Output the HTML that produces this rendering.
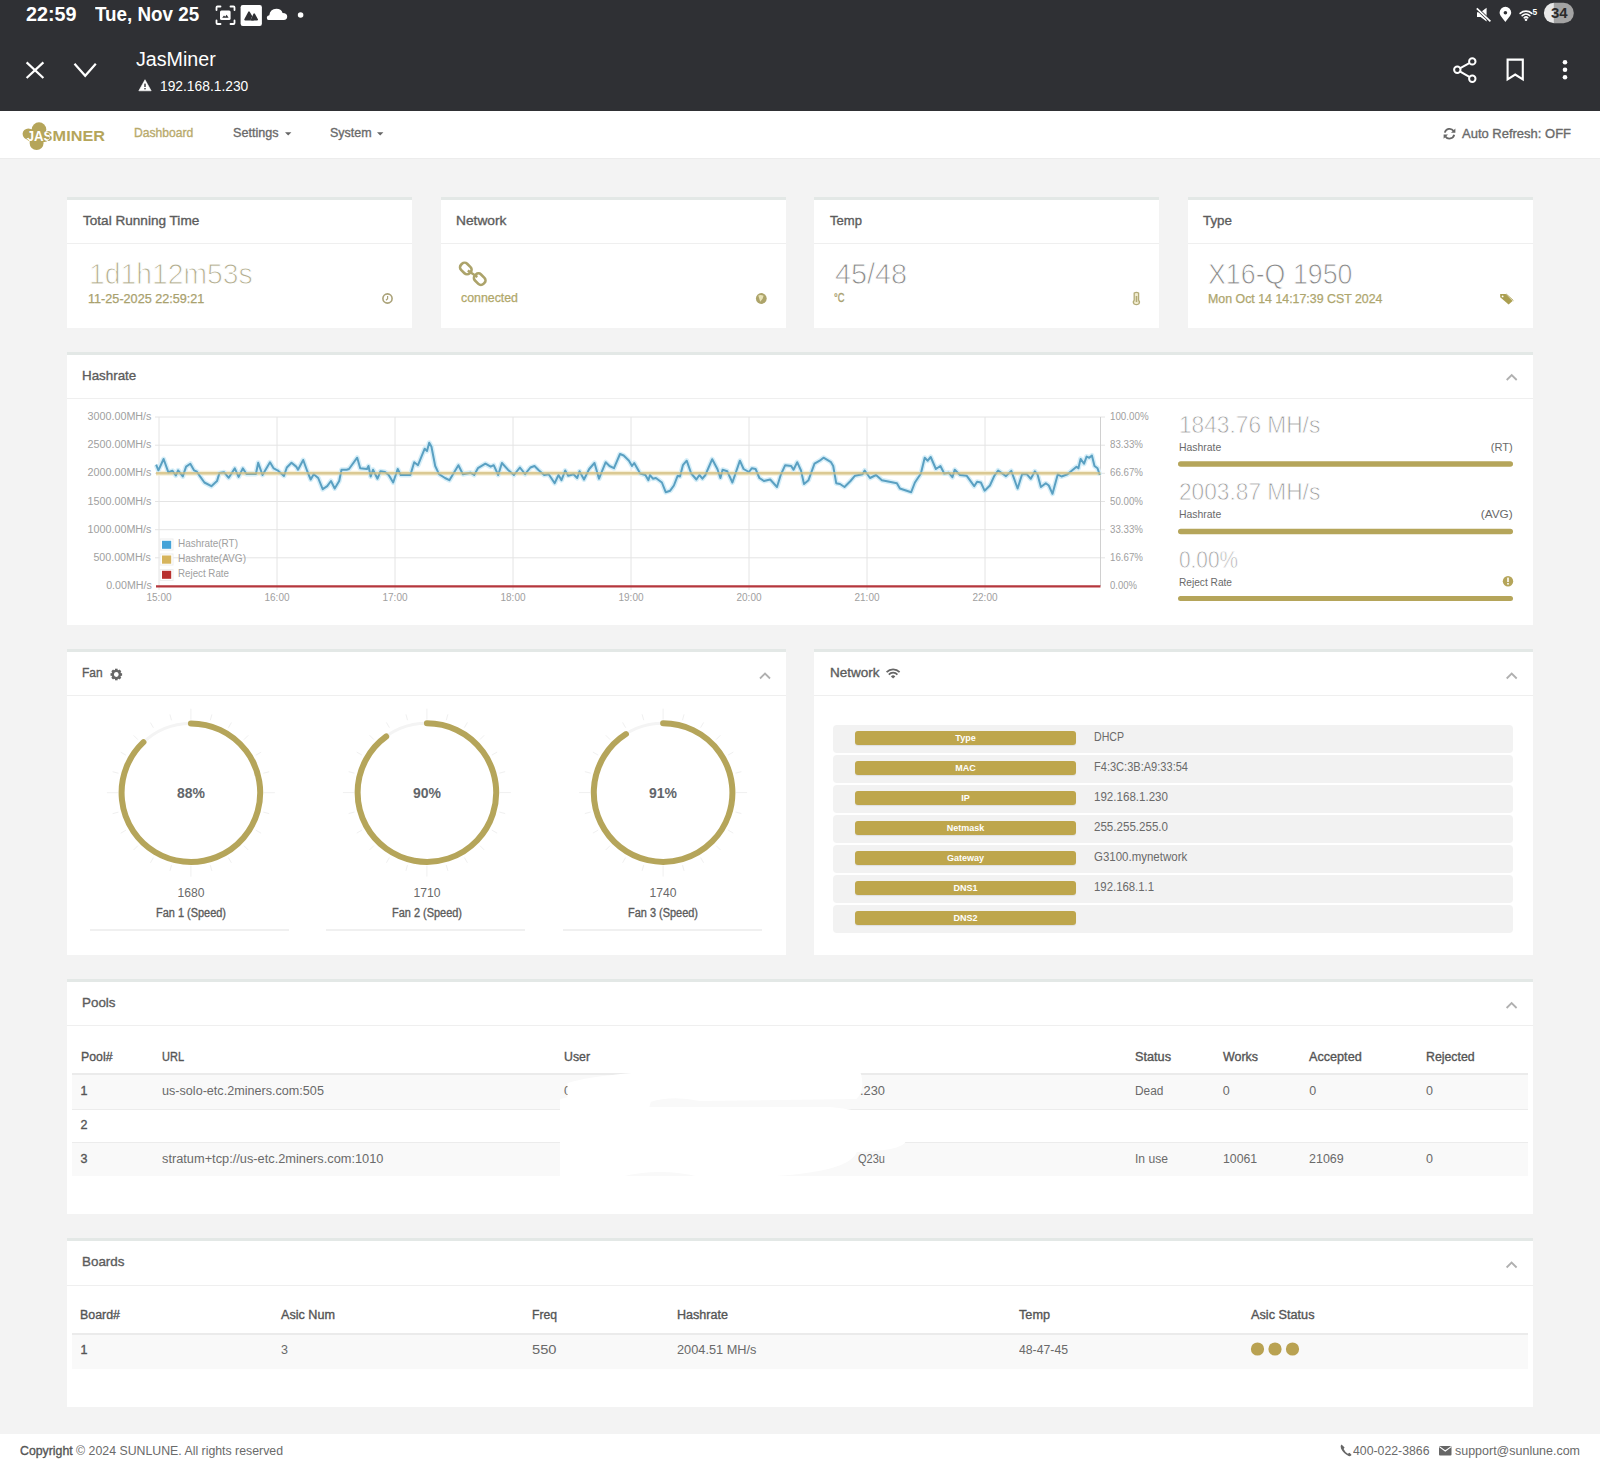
<!DOCTYPE html>
<html><head><meta charset="utf-8"><style>
html,body{margin:0;padding:0;width:1600px;height:1471px;overflow:hidden;background:#f3f3f3;font-family:"Liberation Sans", sans-serif}
div{font-family:"Liberation Sans", sans-serif}
</style></head><body>
<div style="position:absolute;left:0;top:0;width:1600px;height:111px;background:#2f3034"></div>
<div style="position:absolute;left:0;top:111px;width:1600px;height:47px;background:#fff;border-bottom:1px solid #ececec"></div>
<div style="position:absolute;left:0;top:159px;width:1600px;height:1275px;background:#f3f3f3"></div>
<div style="position:absolute;left:67px;top:197px;width:345px;height:131px;background:#fff;border-top:3px solid #e3e8e6;box-sizing:border-box"></div>
<div style="position:absolute;left:67px;top:243px;width:345px;height:1px;background:#efefef"></div>
<div style="position:absolute;left:441px;top:197px;width:345px;height:131px;background:#fff;border-top:3px solid #e3e8e6;box-sizing:border-box"></div>
<div style="position:absolute;left:441px;top:243px;width:345px;height:1px;background:#efefef"></div>
<div style="position:absolute;left:814px;top:197px;width:345px;height:131px;background:#fff;border-top:3px solid #e3e8e6;box-sizing:border-box"></div>
<div style="position:absolute;left:814px;top:243px;width:345px;height:1px;background:#efefef"></div>
<div style="position:absolute;left:1188px;top:197px;width:345px;height:131px;background:#fff;border-top:3px solid #e3e8e6;box-sizing:border-box"></div>
<div style="position:absolute;left:1188px;top:243px;width:345px;height:1px;background:#efefef"></div>
<div style="position:absolute;left:67px;top:352px;width:1466px;height:273px;background:#fff;border-top:3px solid #e3e8e6;box-sizing:border-box"></div>
<div style="position:absolute;left:67px;top:398px;width:1466px;height:1px;background:#efefef"></div>
<div style="position:absolute;left:67px;top:649px;width:719px;height:306px;background:#fff;border-top:3px solid #e3e8e6;box-sizing:border-box"></div>
<div style="position:absolute;left:67px;top:695px;width:719px;height:1px;background:#efefef"></div>
<div style="position:absolute;left:90.4px;top:929px;width:199px;height:1.5px;background:#f0f0f0"></div>
<div style="position:absolute;left:326.4px;top:929px;width:199px;height:1.5px;background:#f0f0f0"></div>
<div style="position:absolute;left:562.6px;top:929px;width:199px;height:1.5px;background:#f0f0f0"></div>
<div style="position:absolute;left:814px;top:649px;width:719px;height:306px;background:#fff;border-top:3px solid #e3e8e6;box-sizing:border-box"></div>
<div style="position:absolute;left:814px;top:695px;width:719px;height:1px;background:#efefef"></div>
<div style="position:absolute;left:833px;top:725px;width:680px;height:27.5px;background:#f2f2f2;border-radius:4px"></div>
<div style="position:absolute;left:855px;top:730.6px;width:221px;height:14.5px;background:#bea64c;border-radius:3px;box-shadow:0 1px 1px rgba(0,0,0,0.08)"></div>
<div style="position:absolute;left:833px;top:755px;width:680px;height:27.5px;background:#f2f2f2;border-radius:4px"></div>
<div style="position:absolute;left:855px;top:760.6px;width:221px;height:14.5px;background:#bea64c;border-radius:3px;box-shadow:0 1px 1px rgba(0,0,0,0.08)"></div>
<div style="position:absolute;left:833px;top:785px;width:680px;height:27.5px;background:#f2f2f2;border-radius:4px"></div>
<div style="position:absolute;left:855px;top:790.6px;width:221px;height:14.5px;background:#bea64c;border-radius:3px;box-shadow:0 1px 1px rgba(0,0,0,0.08)"></div>
<div style="position:absolute;left:833px;top:815px;width:680px;height:27.5px;background:#f2f2f2;border-radius:4px"></div>
<div style="position:absolute;left:855px;top:820.6px;width:221px;height:14.5px;background:#bea64c;border-radius:3px;box-shadow:0 1px 1px rgba(0,0,0,0.08)"></div>
<div style="position:absolute;left:833px;top:845px;width:680px;height:27.5px;background:#f2f2f2;border-radius:4px"></div>
<div style="position:absolute;left:855px;top:850.6px;width:221px;height:14.5px;background:#bea64c;border-radius:3px;box-shadow:0 1px 1px rgba(0,0,0,0.08)"></div>
<div style="position:absolute;left:833px;top:875px;width:680px;height:27.5px;background:#f2f2f2;border-radius:4px"></div>
<div style="position:absolute;left:855px;top:880.6px;width:221px;height:14.5px;background:#bea64c;border-radius:3px;box-shadow:0 1px 1px rgba(0,0,0,0.08)"></div>
<div style="position:absolute;left:833px;top:905px;width:680px;height:27.5px;background:#f2f2f2;border-radius:4px"></div>
<div style="position:absolute;left:855px;top:910.6px;width:221px;height:14.5px;background:#bea64c;border-radius:3px;box-shadow:0 1px 1px rgba(0,0,0,0.08)"></div>
<div style="position:absolute;left:67px;top:979px;width:1466px;height:235px;background:#fff;border-top:3px solid #e3e8e6;box-sizing:border-box"></div>
<div style="position:absolute;left:67px;top:1025px;width:1466px;height:1px;background:#efefef"></div>
<div style="position:absolute;left:72px;top:1073px;width:1456px;height:2px;background:#ebebeb"></div>
<div style="position:absolute;left:72px;top:1075px;width:1456px;height:33.5px;background:#f9f9f9"></div>
<div style="position:absolute;left:72px;top:1108.5px;width:1456px;height:1px;background:#ececec"></div>
<div style="position:absolute;left:72px;top:1142px;width:1456px;height:1px;background:#ececec"></div>
<div style="position:absolute;left:72px;top:1143px;width:1456px;height:33px;background:#f9f9f9"></div>
<div style="position:absolute;left:67px;top:1238px;width:1466px;height:169px;background:#fff;border-top:3px solid #e3e8e6;box-sizing:border-box"></div>
<div style="position:absolute;left:67px;top:1285px;width:1466px;height:1px;background:#efefef"></div>
<div style="position:absolute;left:72px;top:1333px;width:1456px;height:2px;background:#ebebeb"></div>
<div style="position:absolute;left:72px;top:1335px;width:1456px;height:34px;background:#f9f9f9"></div>
<div style="position:absolute;left:0;top:1434px;width:1600px;height:37px;background:#fff"></div>
<svg style="position:absolute;left:0;top:0;pointer-events:none" width="1600" height="1471" viewBox="0 0 1600 1471"><g fill="none" stroke="#fff" stroke-width="1.8" stroke-linecap="round"><path d="M216.5 10 V7.5 Q216.5 6.5 217.5 6.5 H220.5"/><path d="M230.5 6.5 H233.5 Q234.5 6.5 234.5 7.5 V10"/><path d="M216.5 20.5 V23 Q216.5 24 217.5 24 H220.5"/><path d="M230.5 24 H233.5 Q234.5 24 234.5 23 V20.5"/></g><rect x="220" y="10.6" width="10.6" height="9.4" rx="1.5" fill="#fff"/><path d="M222.2 17.8 L224 15.6 L225.2 16.8 L226.6 14.8 L228.6 17.8 Z" fill="#2f3034"/><rect x="240.6" y="5" width="21.3" height="21" rx="2.2" fill="#fff"/><path d="M245 19.6 L249 12.2 L253.4 19.6 Z" fill="#2f3034" stroke="#2f3034" stroke-width="1.6" stroke-linejoin="round"/><path d="M251.2 19.8 L254.2 13.4 L257.6 19.8" fill="none" stroke="#fff" stroke-width="1.2"/><path d="M251.6 19.6 L254.2 14.2 L257.2 19.6 Z" fill="#2f3034" stroke="#2f3034" stroke-width="1.6" stroke-linejoin="round"/><path d="M268.5 20 Q266.8 20 266.8 17.8 Q266.8 15.4 269.3 15.2 Q270 9 276.4 8.8 Q281.2 8.8 282.6 13 Q287.2 13 287.2 16.6 Q287.2 20 283.8 20 Z" fill="#fff"/><circle cx="300.6" cy="15" r="2.8" fill="#fff"/><path d="M1477 12.2 H1480.6 L1486.6 7.8 V21.4 L1480.6 17 H1477 Z" fill="#fff"/><path d="M1476.6 8.2 L1490.6 21.6" stroke="#2f3034" stroke-width="3.2"/><path d="M1476.8 8.4 L1490.4 21.4" stroke="#fff" stroke-width="1.7"/><path d="M1505.4 22 C1503 18.6 1499.6 15.6 1499.6 12.6 A5.8 5.8 0 0 1 1511.2 12.6 C1511.2 15.6 1507.8 18.6 1505.4 22 Z" fill="#fff"/><circle cx="1505.4" cy="12.8" r="1.8" fill="#2f3034"/><g fill="none" stroke="#fff" stroke-width="1.6" stroke-linecap="round"><path d="M1520.2 13.4 A8.6 8.6 0 0 1 1531.8 13.4"/><path d="M1522.2 15.6 A5.6 5.6 0 0 1 1529.8 15.6"/><path d="M1524.2 17.8 A2.6 2.6 0 0 1 1527.8 17.8"/></g><circle cx="1526" cy="19.8" r="1.3" fill="#fff"/><text x="1532.4" y="14.9" font-family="Liberation Sans" font-weight="700" font-size="8.4" fill="#fff">5</text><clipPath id="bp"><rect x="1543.9" y="2.8" width="29.9" height="20.4" rx="10.2"/></clipPath><g clip-path="url(#bp)"><rect x="1543" y="2" width="11" height="22" fill="#e8e8e8"/><rect x="1553.8" y="2" width="21" height="22" fill="#a3a3a3"/></g><g stroke="#fff" stroke-width="2.2" fill="none"><path d="M26.6 62.4 L43.4 78"/><path d="M43.4 62.4 L26.6 78"/><path d="M74.5 63.8 L85.2 75.8 L95.8 63.8"/></g><path d="M145 79.7 L151.2 90.8 H138.8 Z" fill="#fff" stroke="#fff" stroke-width="0.6" stroke-linejoin="round"/><rect x="144.3" y="83.6" width="1.4" height="3.4" fill="#2f3034"/><rect x="144.3" y="88" width="1.4" height="1.4" fill="#2f3034"/><g stroke="#fff" stroke-width="2" fill="none"><path d="M1459.8 68.4 L1469.8 62.8"/><path d="M1459.8 71.4 L1469.8 77.2"/><circle cx="1472.3" cy="61.4" r="3.2"/><circle cx="1457.3" cy="69.8" r="3.2"/><circle cx="1472.3" cy="78.7" r="3.2"/></g><path d="M1507.6 59.6 H1522.8 V79.4 L1515.2 74.6 L1507.6 79.4 Z" fill="none" stroke="#fff" stroke-width="2.1" stroke-linejoin="miter"/><g fill="#fff"><circle cx="1565" cy="62.3" r="2.3"/><circle cx="1565" cy="69.8" r="2.3"/><circle cx="1565" cy="77.3" r="2.3"/></g><g fill="#b5a55a"><circle cx="39" cy="129.6" r="7.3"/><ellipse cx="28.4" cy="134" rx="5.8" ry="5.6"/><circle cx="36.6" cy="143" r="7"/><ellipse cx="44.6" cy="136.4" rx="5.2" ry="5.6"/><ellipse cx="37" cy="136" rx="10" ry="8"/></g><path d="M285 132.2 L291.4 132.2 L288.2 135.4 Z" fill="#666"/><path d="M377 132.2 L383.4 132.2 L380.2 135.4 Z" fill="#666"/><g fill="none" stroke="#666" stroke-width="1.8"><path d="M1444.8 132.6 A4.9 4.9 0 0 1 1453.6 131"/><path d="M1454.2 134.8 A4.9 4.9 0 0 1 1445.4 136.4"/></g><path d="M1455.4 128.4 V132.8 H1451 Z" fill="#666"/><path d="M1443.6 138.8 V134.4 H1448 Z" fill="#666"/><circle cx="387.5" cy="298.5" r="4.6" fill="none" stroke="#aaa278" stroke-width="1.6"/><path d="M387.6 296 V298.8 L386 300.2" stroke="#aaa278" stroke-width="1.2" fill="none"/><g fill="none" stroke="#aca36a" stroke-width="2.6"><rect x="461.5" y="262.5" width="8.6" height="12" rx="3.6" transform="rotate(-45 465.8 268.5)"/><rect x="475.4" y="273.2" width="8.6" height="12" rx="3.6" transform="rotate(-45 479.7 279.2)"/></g><path d="M467.8 270.6 L477.4 277" stroke="#aca36a" stroke-width="2.4"/><circle cx="761.3" cy="298.5" r="5.4" fill="#ada46a"/><path d="M758.3 295.4 Q760.8 294.4 763.6 295.8 L762.6 298.8 L760.2 301.8 L759.4 299 Z" fill="#e9e3b8"/><path d="M1134.2 293 Q1136.4 291.6 1138.6 293 V300.2 Q1140.4 302 1138.6 304 Q1136.4 305.4 1134.2 304 Q1132.4 302 1134.2 300.2 Z" fill="#f1ecd0" stroke="#b3ab78" stroke-width="1.3"/><rect x="1135.7" y="296" width="1.6" height="6" fill="#b3ab78"/><path d="M1500.2 294 H1505.6 L1512.6 301 L1508.6 304.6 L1500.2 297.2 Z" fill="#ab9f50"/><path d="M1506.2 294 L1513.4 300.6" stroke="#ab9f50" stroke-width="1" fill="none"/><circle cx="1502.6" cy="296.4" r="0.9" fill="#fff"/><path d="M1506.7 380.0 L1511.7 375.0 L1516.7 380.0" fill="none" stroke="#b0b0b0" stroke-width="1.8"/><line x1="155" y1="417.0" x2="1105" y2="417.0" stroke="#e4e4e4" stroke-width="1"/><line x1="155" y1="445.2" x2="1105" y2="445.2" stroke="#e4e4e4" stroke-width="1"/><line x1="155" y1="473.3" x2="1105" y2="473.3" stroke="#e4e4e4" stroke-width="1"/><line x1="155" y1="501.5" x2="1105" y2="501.5" stroke="#e4e4e4" stroke-width="1"/><line x1="155" y1="529.7" x2="1105" y2="529.7" stroke="#e4e4e4" stroke-width="1"/><line x1="155" y1="557.8" x2="1105" y2="557.8" stroke="#e4e4e4" stroke-width="1"/><line x1="159.0" y1="417" x2="159.0" y2="590" stroke="#e4e4e4" stroke-width="1"/><line x1="277.0" y1="417" x2="277.0" y2="590" stroke="#e4e4e4" stroke-width="1"/><line x1="395.0" y1="417" x2="395.0" y2="590" stroke="#e4e4e4" stroke-width="1"/><line x1="513.0" y1="417" x2="513.0" y2="590" stroke="#e4e4e4" stroke-width="1"/><line x1="631.0" y1="417" x2="631.0" y2="590" stroke="#e4e4e4" stroke-width="1"/><line x1="749.0" y1="417" x2="749.0" y2="590" stroke="#e4e4e4" stroke-width="1"/><line x1="867.0" y1="417" x2="867.0" y2="590" stroke="#e4e4e4" stroke-width="1"/><line x1="985.0" y1="417" x2="985.0" y2="590" stroke="#e4e4e4" stroke-width="1"/><line x1="1100.5" y1="417" x2="1100.5" y2="586" stroke="#d0d0d0" stroke-width="1"/><line x1="156" y1="473.2" x2="1100.5" y2="473.2" stroke="#f5efd8" stroke-width="5"/><polyline points="156.1,464.7 158.4,470.3 163.6,459.0 168.3,472.2 172.5,470.8 175.8,475.5 178.1,470.3 182.8,476.4 186.1,466.6 190.3,463.7 194.0,470.3 196.9,471.7 199.7,475.9 204.4,482.5 211.4,486.2 217.0,481.1 219.4,473.1 224.0,472.2 228.7,477.8 234.8,468.4 238.6,476.9 242.8,468.4 246.5,474.0 255.9,474.0 258.2,462.8 262.5,475.0 270.0,462.3 273.7,468.4 277.5,470.3 284.0,475.9 286.8,467.5 291.5,462.8 296.2,466.6 298.0,469.7 303.2,460.0 307.0,470.5 310.7,479.5 313.7,474.2 318.2,478.0 322.7,489.2 327.2,486.2 331.0,481.0 334.7,488.5 339.2,481.0 341.5,469.7 346.7,469.7 349.0,469.0 357.2,457.7 360.2,468.2 367.0,469.0 368.5,466.0 370.7,476.5 373.0,469.7 377.5,478.7 380.5,471.2 385.0,472.0 388.7,475.0 393.2,482.5 397.7,469.0 400.7,475.0 410.4,475.0 414.2,462.2 418.0,465.2 424.7,448.7 427.0,451.0 429.2,442.7 431.4,446.5 435.2,466.0 439.0,474.2 445.0,478.0 449.4,480.2 458.4,465.2 462.9,474.2 470.4,472.7 474.2,475.0 477.9,468.2 485.4,463.7 490.7,466.7 493.7,465.2 498.2,475.0 501.9,463.0 507.9,469.7 513.9,475.0 519.9,467.5 525.1,474.2 530.4,467.5 534.5,466.0 539.0,470.5 544.2,475.0 548.7,474.2 554.7,483.2 558.5,475.0 561.5,480.2 565.2,470.5 568.2,475.7 573.5,474.2 577.2,478.0 579.5,471.2 584.0,479.5 589.2,469.0 594.5,463.0 599.0,478.7 605.7,462.2 609.5,466.0 614.0,468.2 620.0,454.0 623.7,455.5 629.0,460.7 632.0,466.0 634.2,463.0 640.2,473.5 645.4,475.0 648.4,480.2 650.0,475.0 652.9,478.7 655.9,478.0 661.9,482.5 665.7,492.2 670.2,490.7 673.9,485.5 677.7,475.7 680.0,476.5 682.9,465.2 686.7,460.7 691.2,473.5 696.4,479.5 699.4,475.0 702.4,478.7 705.4,475.0 712.2,459.2 717.4,469.0 720.4,478.0 722.6,469.7 727.2,471.2 732.4,482.5 739.9,460.7 743.6,469.0 748.9,472.0 751.9,468.2 755.6,469.0 759.4,478.0 763.9,481.0 770.2,479.5 777.0,487.0 780.7,475.0 785.2,465.2 791.2,466.0 793.5,469.7 797.2,462.2 801.0,470.5 804.0,484.0 808.5,480.2 814.5,463.7 819.7,460.7 823.5,457.7 831.0,462.2 833.2,466.0 836.2,483.2 840.0,484.0 844.5,487.0 850.5,481.0 855.0,475.7 862.5,474.2 864.7,470.5 870.0,478.0 876.0,475.0 881.9,480.2 889.4,481.7 896.9,483.2 899.9,488.5 904.4,490.0 911.2,492.2 914.9,482.5 920.9,473.5 924.7,457.7 927.7,460.7 930.7,457.0 935.9,469.0 940.4,466.0 944.2,473.5 948.7,472.7 952.4,477.2 954.7,469.7 960.0,475.0 966.6,475.7 974.2,486.2 977.1,481.7 980.9,482.5 984.6,490.7 989.9,485.5 994.4,475.7 998.1,470.5 1006.0,476.1 1011.3,470.9 1017.6,488.5 1022.1,474.3 1027.0,474.3 1030.8,478.8 1034.9,471.3 1037.5,474.3 1040.9,487.0 1045.8,483.3 1048.8,485.5 1052.5,493.8 1057.8,474.3 1061.5,476.5 1067.5,474.3 1072.0,470.5 1076.5,466.8 1078.4,468.3 1080.6,458.9 1084.0,463.8 1086.6,456.6 1089.3,457.8 1091.9,455.5 1094.5,466.0 1097.5,468.3 1099.8,475.0" fill="none" stroke="#d6eef8" stroke-width="5" stroke-linejoin="round"/><polyline points="156.1,464.7 158.4,470.3 163.6,459.0 168.3,472.2 172.5,470.8 175.8,475.5 178.1,470.3 182.8,476.4 186.1,466.6 190.3,463.7 194.0,470.3 196.9,471.7 199.7,475.9 204.4,482.5 211.4,486.2 217.0,481.1 219.4,473.1 224.0,472.2 228.7,477.8 234.8,468.4 238.6,476.9 242.8,468.4 246.5,474.0 255.9,474.0 258.2,462.8 262.5,475.0 270.0,462.3 273.7,468.4 277.5,470.3 284.0,475.9 286.8,467.5 291.5,462.8 296.2,466.6 298.0,469.7 303.2,460.0 307.0,470.5 310.7,479.5 313.7,474.2 318.2,478.0 322.7,489.2 327.2,486.2 331.0,481.0 334.7,488.5 339.2,481.0 341.5,469.7 346.7,469.7 349.0,469.0 357.2,457.7 360.2,468.2 367.0,469.0 368.5,466.0 370.7,476.5 373.0,469.7 377.5,478.7 380.5,471.2 385.0,472.0 388.7,475.0 393.2,482.5 397.7,469.0 400.7,475.0 410.4,475.0 414.2,462.2 418.0,465.2 424.7,448.7 427.0,451.0 429.2,442.7 431.4,446.5 435.2,466.0 439.0,474.2 445.0,478.0 449.4,480.2 458.4,465.2 462.9,474.2 470.4,472.7 474.2,475.0 477.9,468.2 485.4,463.7 490.7,466.7 493.7,465.2 498.2,475.0 501.9,463.0 507.9,469.7 513.9,475.0 519.9,467.5 525.1,474.2 530.4,467.5 534.5,466.0 539.0,470.5 544.2,475.0 548.7,474.2 554.7,483.2 558.5,475.0 561.5,480.2 565.2,470.5 568.2,475.7 573.5,474.2 577.2,478.0 579.5,471.2 584.0,479.5 589.2,469.0 594.5,463.0 599.0,478.7 605.7,462.2 609.5,466.0 614.0,468.2 620.0,454.0 623.7,455.5 629.0,460.7 632.0,466.0 634.2,463.0 640.2,473.5 645.4,475.0 648.4,480.2 650.0,475.0 652.9,478.7 655.9,478.0 661.9,482.5 665.7,492.2 670.2,490.7 673.9,485.5 677.7,475.7 680.0,476.5 682.9,465.2 686.7,460.7 691.2,473.5 696.4,479.5 699.4,475.0 702.4,478.7 705.4,475.0 712.2,459.2 717.4,469.0 720.4,478.0 722.6,469.7 727.2,471.2 732.4,482.5 739.9,460.7 743.6,469.0 748.9,472.0 751.9,468.2 755.6,469.0 759.4,478.0 763.9,481.0 770.2,479.5 777.0,487.0 780.7,475.0 785.2,465.2 791.2,466.0 793.5,469.7 797.2,462.2 801.0,470.5 804.0,484.0 808.5,480.2 814.5,463.7 819.7,460.7 823.5,457.7 831.0,462.2 833.2,466.0 836.2,483.2 840.0,484.0 844.5,487.0 850.5,481.0 855.0,475.7 862.5,474.2 864.7,470.5 870.0,478.0 876.0,475.0 881.9,480.2 889.4,481.7 896.9,483.2 899.9,488.5 904.4,490.0 911.2,492.2 914.9,482.5 920.9,473.5 924.7,457.7 927.7,460.7 930.7,457.0 935.9,469.0 940.4,466.0 944.2,473.5 948.7,472.7 952.4,477.2 954.7,469.7 960.0,475.0 966.6,475.7 974.2,486.2 977.1,481.7 980.9,482.5 984.6,490.7 989.9,485.5 994.4,475.7 998.1,470.5 1006.0,476.1 1011.3,470.9 1017.6,488.5 1022.1,474.3 1027.0,474.3 1030.8,478.8 1034.9,471.3 1037.5,474.3 1040.9,487.0 1045.8,483.3 1048.8,485.5 1052.5,493.8 1057.8,474.3 1061.5,476.5 1067.5,474.3 1072.0,470.5 1076.5,466.8 1078.4,468.3 1080.6,458.9 1084.0,463.8 1086.6,456.6 1089.3,457.8 1091.9,455.5 1094.5,466.0 1097.5,468.3 1099.8,475.0" fill="none" stroke="#5aa0c2" stroke-width="2" stroke-linejoin="round"/><line x1="156" y1="473.2" x2="1100.5" y2="473.2" stroke="#d3bd7c" stroke-width="2.6" opacity="0.75"/><line x1="156" y1="586.3" x2="1100.5" y2="586.3" stroke="#b5373d" stroke-width="2.2"/><rect x="160" y="539" width="13" height="11" fill="#fff" stroke="#eee" stroke-width="1"/><rect x="162" y="540.8" width="9.2" height="8" fill="#45a3d8"/><rect x="160" y="554" width="13" height="11" fill="#fff" stroke="#eee" stroke-width="1"/><rect x="162" y="555.5" width="9.2" height="8.2" fill="#d6b45c"/><rect x="160" y="569.5" width="13" height="11" fill="#fff" stroke="#eee" stroke-width="1"/><rect x="162" y="570.8" width="9.2" height="8" fill="#b8312f"/><rect x="1178" y="461.2" width="335" height="5.5" rx="2.75" fill="#b5a55a"/><rect x="1178" y="528.7" width="335" height="5.5" rx="2.75" fill="#b5a55a"/><circle cx="1508" cy="581.2" r="5.2" fill="#b5a55a"/><rect x="1507.2" y="577.6" width="1.6" height="4.4" fill="#fff"/><rect x="1507.2" y="583" width="1.6" height="1.6" fill="#fff"/><rect x="1178" y="596" width="335" height="5" rx="2.5" fill="#b5a55a"/><rect x="115.00" y="668.70" width="2.6" height="3" transform="rotate(0.0 116.3 674.5)" fill="#666"/><rect x="115.00" y="668.70" width="2.6" height="3" transform="rotate(45.0 116.3 674.5)" fill="#666"/><rect x="115.00" y="668.70" width="2.6" height="3" transform="rotate(90.0 116.3 674.5)" fill="#666"/><rect x="115.00" y="668.70" width="2.6" height="3" transform="rotate(135.0 116.3 674.5)" fill="#666"/><rect x="115.00" y="668.70" width="2.6" height="3" transform="rotate(180.0 116.3 674.5)" fill="#666"/><rect x="115.00" y="668.70" width="2.6" height="3" transform="rotate(225.0 116.3 674.5)" fill="#666"/><rect x="115.00" y="668.70" width="2.6" height="3" transform="rotate(270.0 116.3 674.5)" fill="#666"/><rect x="115.00" y="668.70" width="2.6" height="3" transform="rotate(315.0 116.3 674.5)" fill="#666"/><circle cx="116.3" cy="674.5" r="3.6" fill="none" stroke="#666" stroke-width="2.4"/><path d="M760.0 678.5 L765.0 673.5 L770.0 678.5" fill="none" stroke="#b0b0b0" stroke-width="1.8"/><g stroke="#f0f0f0" stroke-width="1"><line x1="190.90" y1="719.70" x2="190.90" y2="708.70"/><line x1="210.31" y1="720.26" x2="211.86" y2="714.46"/><line x1="228.40" y1="727.75" x2="231.40" y2="722.55"/><line x1="243.93" y1="739.67" x2="248.18" y2="735.42"/><line x1="255.85" y1="755.20" x2="261.05" y2="752.20"/><line x1="263.34" y1="773.29" x2="269.14" y2="771.74"/><line x1="263.90" y1="792.70" x2="274.90" y2="792.70"/><line x1="263.34" y1="812.11" x2="269.14" y2="813.66"/><line x1="255.85" y1="830.20" x2="261.05" y2="833.20"/><line x1="243.93" y1="845.73" x2="248.18" y2="849.98"/><line x1="228.40" y1="857.65" x2="231.40" y2="862.85"/><line x1="210.31" y1="865.14" x2="211.86" y2="870.94"/><line x1="190.90" y1="865.70" x2="190.90" y2="876.70"/><line x1="171.49" y1="865.14" x2="169.94" y2="870.94"/><line x1="153.40" y1="857.65" x2="150.40" y2="862.85"/><line x1="137.87" y1="845.73" x2="133.62" y2="849.98"/><line x1="125.95" y1="830.20" x2="120.75" y2="833.20"/><line x1="118.46" y1="812.11" x2="112.66" y2="813.66"/><line x1="117.90" y1="792.70" x2="106.90" y2="792.70"/><line x1="118.46" y1="773.29" x2="112.66" y2="771.74"/><line x1="125.95" y1="755.20" x2="120.75" y2="752.20"/><line x1="137.87" y1="739.67" x2="133.62" y2="735.42"/><line x1="153.40" y1="727.75" x2="150.40" y2="722.55"/><line x1="171.49" y1="720.26" x2="169.94" y2="714.46"/></g><circle cx="190.90" cy="792.70" r="69.3" fill="none" stroke="#f4f4f4" stroke-width="3"/><path d="M190.90 723.40 A69.3 69.3 0 1 1 143.46 742.18" fill="none" stroke="#b5a55a" stroke-width="6" stroke-linecap="round"/><g stroke="#f0f0f0" stroke-width="1"><line x1="426.90" y1="719.60" x2="426.90" y2="708.60"/><line x1="446.31" y1="720.16" x2="447.86" y2="714.36"/><line x1="464.40" y1="727.65" x2="467.40" y2="722.45"/><line x1="479.93" y1="739.57" x2="484.18" y2="735.32"/><line x1="491.85" y1="755.10" x2="497.05" y2="752.10"/><line x1="499.34" y1="773.19" x2="505.14" y2="771.64"/><line x1="499.90" y1="792.60" x2="510.90" y2="792.60"/><line x1="499.34" y1="812.01" x2="505.14" y2="813.56"/><line x1="491.85" y1="830.10" x2="497.05" y2="833.10"/><line x1="479.93" y1="845.63" x2="484.18" y2="849.88"/><line x1="464.40" y1="857.55" x2="467.40" y2="862.75"/><line x1="446.31" y1="865.04" x2="447.86" y2="870.84"/><line x1="426.90" y1="865.60" x2="426.90" y2="876.60"/><line x1="407.49" y1="865.04" x2="405.94" y2="870.84"/><line x1="389.40" y1="857.55" x2="386.40" y2="862.75"/><line x1="373.87" y1="845.63" x2="369.62" y2="849.88"/><line x1="361.95" y1="830.10" x2="356.75" y2="833.10"/><line x1="354.46" y1="812.01" x2="348.66" y2="813.56"/><line x1="353.90" y1="792.60" x2="342.90" y2="792.60"/><line x1="354.46" y1="773.19" x2="348.66" y2="771.64"/><line x1="361.95" y1="755.10" x2="356.75" y2="752.10"/><line x1="373.87" y1="739.57" x2="369.62" y2="735.32"/><line x1="389.40" y1="727.65" x2="386.40" y2="722.45"/><line x1="407.49" y1="720.16" x2="405.94" y2="714.36"/></g><circle cx="426.90" cy="792.60" r="69.3" fill="none" stroke="#f4f4f4" stroke-width="3"/><path d="M426.90 723.30 A69.3 69.3 0 1 1 386.17 736.54" fill="none" stroke="#b5a55a" stroke-width="6" stroke-linecap="round"/><g stroke="#f0f0f0" stroke-width="1"><line x1="663.10" y1="719.60" x2="663.10" y2="708.60"/><line x1="682.51" y1="720.16" x2="684.06" y2="714.36"/><line x1="700.60" y1="727.65" x2="703.60" y2="722.45"/><line x1="716.13" y1="739.57" x2="720.38" y2="735.32"/><line x1="728.05" y1="755.10" x2="733.25" y2="752.10"/><line x1="735.54" y1="773.19" x2="741.34" y2="771.64"/><line x1="736.10" y1="792.60" x2="747.10" y2="792.60"/><line x1="735.54" y1="812.01" x2="741.34" y2="813.56"/><line x1="728.05" y1="830.10" x2="733.25" y2="833.10"/><line x1="716.13" y1="845.63" x2="720.38" y2="849.88"/><line x1="700.60" y1="857.55" x2="703.60" y2="862.75"/><line x1="682.51" y1="865.04" x2="684.06" y2="870.84"/><line x1="663.10" y1="865.60" x2="663.10" y2="876.60"/><line x1="643.69" y1="865.04" x2="642.14" y2="870.84"/><line x1="625.60" y1="857.55" x2="622.60" y2="862.75"/><line x1="610.07" y1="845.63" x2="605.82" y2="849.88"/><line x1="598.15" y1="830.10" x2="592.95" y2="833.10"/><line x1="590.66" y1="812.01" x2="584.86" y2="813.56"/><line x1="590.10" y1="792.60" x2="579.10" y2="792.60"/><line x1="590.66" y1="773.19" x2="584.86" y2="771.64"/><line x1="598.15" y1="755.10" x2="592.95" y2="752.10"/><line x1="610.07" y1="739.57" x2="605.82" y2="735.32"/><line x1="625.60" y1="727.65" x2="622.60" y2="722.45"/><line x1="643.69" y1="720.16" x2="642.14" y2="714.36"/></g><circle cx="663.10" cy="792.60" r="69.3" fill="none" stroke="#f4f4f4" stroke-width="3"/><path d="M663.10 723.30 A69.3 69.3 0 1 1 625.97 734.09" fill="none" stroke="#b5a55a" stroke-width="6" stroke-linecap="round"/><g fill="none" stroke="#666" stroke-width="1.7"><path d="M886.6 672.2 A9 9 0 0 1 899.6 672.2"/><path d="M888.8 674.6 A5.8 5.8 0 0 1 897.4 674.6"/></g><path d="M890.9 676.4 L893.1 678.6 L895.3 676.4 A3 3 0 0 0 890.9 676.4Z" fill="#666"/><path d="M1506.7 678.5 L1511.7 673.5 L1516.7 678.5" fill="none" stroke="#b0b0b0" stroke-width="1.8"/><path d="M1506.6 1008.0 L1511.6 1003.0 L1516.6 1008.0" fill="none" stroke="#b0b0b0" stroke-width="1.8"/><path d="M1506.6 1267.5 L1511.6 1262.5 L1516.6 1267.5" fill="none" stroke="#b0b0b0" stroke-width="1.8"/><circle cx="1257.5" cy="1349" r="6.6" fill="#b9a252"/><circle cx="1275.0" cy="1349" r="6.6" fill="#b9a252"/><circle cx="1292.5" cy="1349" r="6.6" fill="#b9a252"/><path d="M1341.5 1444.6 Q1340 1445.6 1341 1448.6 Q1343.4 1453.6 1348.6 1456 Q1350.6 1456.6 1351.6 1455 L1349.6 1452.8 L1347.8 1453.8 Q1345 1452 1343.6 1449 L1344.6 1447.4 Z" fill="#666"/><rect x="1439" y="1446" width="12.5" height="9.5" rx="1" fill="#666"/><path d="M1439.3 1446.6 L1445.25 1451 L1451.2 1446.6" stroke="#fff" stroke-width="1.1" fill="none"/></svg>
<div style="position:absolute;left:26.30px;transform-origin:left;top:5.09px;font-size:19.50px;line-height:19.50px;color:#fff;font-weight:700;white-space:nowrap;transform:scaleX(1.0145);">22:59</div>
<div style="position:absolute;left:94.70px;transform-origin:left;top:5.09px;font-size:19.50px;line-height:19.50px;color:#fff;font-weight:700;white-space:nowrap;transform:scaleX(0.9647);">Tue, Nov 25</div>
<div style="position:absolute;left:136.00px;transform-origin:left;top:48.87px;font-size:20.00px;line-height:20.00px;color:#fff;font-weight:400;white-space:nowrap;transform:scaleX(0.9835);">JasMiner</div>
<div style="position:absolute;left:160.30px;transform-origin:left;top:78.53px;font-size:14.50px;line-height:14.50px;color:#fff;font-weight:400;white-space:nowrap;transform:scaleX(0.9522);">192.168.1.230</div>
<div style="position:absolute;left:1551.00px;transform-origin:left;top:5.20px;font-size:15.00px;line-height:15.00px;color:#2a2a2a;font-weight:700;white-space:nowrap;transform:scaleX(0.9948);">34</div>
<div style="position:absolute;left:133.75px;transform-origin:left;top:126.00px;font-size:13.00px;line-height:13.00px;color:#b8aa6c;font-weight:400;white-space:nowrap;transform:scaleX(0.9315);-webkit-text-stroke:0.35px #b8aa6c;">Dashboard</div>
<div style="position:absolute;left:233.00px;transform-origin:left;top:125.60px;font-size:13.00px;line-height:13.00px;color:#6a6a6a;font-weight:400;white-space:nowrap;transform:scaleX(0.9684);-webkit-text-stroke:0.35px #6a6a6a;">Settings</div>
<div style="position:absolute;left:329.70px;transform-origin:left;top:125.60px;font-size:13.00px;line-height:13.00px;color:#6a6a6a;font-weight:400;white-space:nowrap;transform:scaleX(0.9598);-webkit-text-stroke:0.35px #6a6a6a;">System</div>
<div style="position:absolute;left:1462.00px;transform-origin:left;top:126.80px;font-size:13.00px;line-height:13.00px;color:#6a6a6a;font-weight:400;white-space:nowrap;transform:scaleX(0.9991);-webkit-text-stroke:0.35px #6a6a6a;">Auto Refresh: OFF</div>
<div style="position:absolute;left:82.50px;transform-origin:left;top:214.17px;font-size:13.50px;line-height:13.50px;color:#5c5c5c;font-weight:400;white-space:nowrap;transform:scaleX(1.0059);-webkit-text-stroke:0.35px #5c5c5c;">Total Running Time</div>
<div style="position:absolute;left:455.50px;transform-origin:left;top:214.17px;font-size:13.50px;line-height:13.50px;color:#5c5c5c;font-weight:400;white-space:nowrap;transform:scaleX(1.0199);-webkit-text-stroke:0.35px #5c5c5c;">Network</div>
<div style="position:absolute;left:829.50px;transform-origin:left;top:214.17px;font-size:13.50px;line-height:13.50px;color:#5c5c5c;font-weight:400;white-space:nowrap;transform:scaleX(0.9692);-webkit-text-stroke:0.35px #5c5c5c;">Temp</div>
<div style="position:absolute;left:1202.50px;transform-origin:left;top:214.17px;font-size:13.50px;line-height:13.50px;color:#5c5c5c;font-weight:400;white-space:nowrap;transform:scaleX(0.9904);-webkit-text-stroke:0.35px #5c5c5c;">Type</div>
<div style="position:absolute;left:88.75px;transform-origin:left;top:258.83px;font-size:29.50px;line-height:29.50px;color:#b3ae90;font-weight:400;white-space:nowrap;transform:scaleX(0.9600);-webkit-text-stroke:1px #fff;">1d1h12m53s</div>
<div style="position:absolute;left:835.00px;transform-origin:left;top:258.83px;font-size:29.50px;line-height:29.50px;color:#8a8a8a;font-weight:400;white-space:nowrap;transform:scaleX(0.9752);-webkit-text-stroke:0.9px #fff;">45/48</div>
<div style="position:absolute;left:1208.00px;transform-origin:left;top:258.83px;font-size:29.50px;line-height:29.50px;color:#8a8a8a;font-weight:400;white-space:nowrap;transform:scaleX(0.9083);-webkit-text-stroke:0.9px #fff;">X16-Q 1950</div>
<div style="position:absolute;left:88.00px;transform-origin:left;top:292.84px;font-size:12.00px;line-height:12.00px;color:#a9a16e;font-weight:400;white-space:nowrap;transform:scaleX(1.0529);-webkit-text-stroke:0.25px #a9a16e;">11-25-2025 22:59:21</div>
<div style="position:absolute;left:461.00px;transform-origin:left;top:292.44px;font-size:12.00px;line-height:12.00px;color:#b0a76a;font-weight:400;white-space:nowrap;transform:scaleX(1.0291);-webkit-text-stroke:0.25px #b0a76a;">connected</div>
<div style="position:absolute;left:834.00px;transform-origin:left;top:292.44px;font-size:12.00px;line-height:12.00px;color:#aaa270;font-weight:400;white-space:nowrap;transform:scaleX(0.7796);-webkit-text-stroke:0.35px #aaa270;">&deg;C</div>
<div style="position:absolute;left:1208.00px;transform-origin:left;top:292.64px;font-size:12.00px;line-height:12.00px;color:#aea66e;font-weight:400;white-space:nowrap;transform:scaleX(1.0312);-webkit-text-stroke:0.25px #aea66e;">Mon Oct 14 14:17:39 CST 2024</div>
<div style="position:absolute;left:81.75px;transform-origin:left;top:369.27px;font-size:13.50px;line-height:13.50px;color:#5c5c5c;font-weight:400;white-space:nowrap;transform:scaleX(0.9903);-webkit-text-stroke:0.35px #5c5c5c;">Hashrate</div>
<div style="position:absolute;right:1448.70px;transform-origin:right;top:412.04px;font-size:10.00px;line-height:10.00px;color:#a0a0a0;font-weight:400;white-space:nowrap;transform:scaleX(1.0759);">3000.00MH/s</div>
<div style="position:absolute;left:1110.00px;transform-origin:left;top:412.04px;font-size:10.00px;line-height:10.00px;color:#a0a0a0;font-weight:400;white-space:nowrap;transform:scaleX(0.9776);">100.00%</div>
<div style="position:absolute;right:1448.70px;transform-origin:right;top:440.20px;font-size:10.00px;line-height:10.00px;color:#a0a0a0;font-weight:400;white-space:nowrap;transform:scaleX(1.0759);">2500.00MH/s</div>
<div style="position:absolute;left:1110.00px;transform-origin:left;top:440.20px;font-size:10.00px;line-height:10.00px;color:#a0a0a0;font-weight:400;white-space:nowrap;transform:scaleX(0.9699);">83.33%</div>
<div style="position:absolute;right:1448.70px;transform-origin:right;top:468.37px;font-size:10.00px;line-height:10.00px;color:#a0a0a0;font-weight:400;white-space:nowrap;transform:scaleX(1.0759);">2000.00MH/s</div>
<div style="position:absolute;left:1110.00px;transform-origin:left;top:468.37px;font-size:10.00px;line-height:10.00px;color:#a0a0a0;font-weight:400;white-space:nowrap;transform:scaleX(0.9699);">66.67%</div>
<div style="position:absolute;right:1448.70px;transform-origin:right;top:496.54px;font-size:10.00px;line-height:10.00px;color:#a0a0a0;font-weight:400;white-space:nowrap;transform:scaleX(1.0759);">1500.00MH/s</div>
<div style="position:absolute;left:1110.00px;transform-origin:left;top:496.54px;font-size:10.00px;line-height:10.00px;color:#a0a0a0;font-weight:400;white-space:nowrap;transform:scaleX(0.9699);">50.00%</div>
<div style="position:absolute;right:1448.70px;transform-origin:right;top:524.70px;font-size:10.00px;line-height:10.00px;color:#a0a0a0;font-weight:400;white-space:nowrap;transform:scaleX(1.0759);">1000.00MH/s</div>
<div style="position:absolute;left:1110.00px;transform-origin:left;top:524.70px;font-size:10.00px;line-height:10.00px;color:#a0a0a0;font-weight:400;white-space:nowrap;transform:scaleX(0.9699);">33.33%</div>
<div style="position:absolute;right:1448.70px;transform-origin:right;top:552.87px;font-size:10.00px;line-height:10.00px;color:#a0a0a0;font-weight:400;white-space:nowrap;transform:scaleX(1.0664);">500.00MH/s</div>
<div style="position:absolute;left:1110.00px;transform-origin:left;top:552.87px;font-size:10.00px;line-height:10.00px;color:#a0a0a0;font-weight:400;white-space:nowrap;transform:scaleX(0.9699);">16.67%</div>
<div style="position:absolute;right:1448.70px;transform-origin:right;top:581.04px;font-size:10.00px;line-height:10.00px;color:#a0a0a0;font-weight:400;white-space:nowrap;transform:scaleX(1.0655);">0.00MH/s</div>
<div style="position:absolute;left:1110.00px;transform-origin:left;top:581.04px;font-size:10.00px;line-height:10.00px;color:#a0a0a0;font-weight:400;white-space:nowrap;transform:scaleX(0.9521);">0.00%</div>
<div style="position:absolute;left:159.40px;transform-origin:center;top:592.74px;font-size:10.00px;line-height:10.00px;color:#a0a0a0;font-weight:400;white-space:nowrap;transform:translateX(-50%) scaleX(0.9988);">15:00</div>
<div style="position:absolute;left:277.40px;transform-origin:center;top:592.74px;font-size:10.00px;line-height:10.00px;color:#a0a0a0;font-weight:400;white-space:nowrap;transform:translateX(-50%) scaleX(0.9988);">16:00</div>
<div style="position:absolute;left:395.40px;transform-origin:center;top:592.74px;font-size:10.00px;line-height:10.00px;color:#a0a0a0;font-weight:400;white-space:nowrap;transform:translateX(-50%) scaleX(0.9988);">17:00</div>
<div style="position:absolute;left:513.40px;transform-origin:center;top:592.74px;font-size:10.00px;line-height:10.00px;color:#a0a0a0;font-weight:400;white-space:nowrap;transform:translateX(-50%) scaleX(0.9988);">18:00</div>
<div style="position:absolute;left:631.40px;transform-origin:center;top:592.74px;font-size:10.00px;line-height:10.00px;color:#a0a0a0;font-weight:400;white-space:nowrap;transform:translateX(-50%) scaleX(0.9988);">19:00</div>
<div style="position:absolute;left:749.40px;transform-origin:center;top:592.74px;font-size:10.00px;line-height:10.00px;color:#a0a0a0;font-weight:400;white-space:nowrap;transform:translateX(-50%) scaleX(0.9988);">20:00</div>
<div style="position:absolute;left:867.40px;transform-origin:center;top:592.74px;font-size:10.00px;line-height:10.00px;color:#a0a0a0;font-weight:400;white-space:nowrap;transform:translateX(-50%) scaleX(0.9988);">21:00</div>
<div style="position:absolute;left:985.40px;transform-origin:center;top:592.74px;font-size:10.00px;line-height:10.00px;color:#a0a0a0;font-weight:400;white-space:nowrap;transform:translateX(-50%) scaleX(0.9988);">22:00</div>
<div style="position:absolute;left:178.00px;transform-origin:left;top:538.57px;font-size:10.20px;line-height:10.20px;color:#a0a0a0;font-weight:400;white-space:nowrap;transform:scaleX(0.9751);">Hashrate(RT)</div>
<div style="position:absolute;left:178.00px;transform-origin:left;top:553.57px;font-size:10.20px;line-height:10.20px;color:#a0a0a0;font-weight:400;white-space:nowrap;transform:scaleX(0.9871);">Hashrate(AVG)</div>
<div style="position:absolute;left:178.00px;transform-origin:left;top:568.57px;font-size:10.20px;line-height:10.20px;color:#a0a0a0;font-weight:400;white-space:nowrap;transform:scaleX(0.9580);">Reject Rate</div>
<div style="position:absolute;left:1178.75px;transform-origin:left;top:413.01px;font-size:24.50px;line-height:24.50px;color:#9a9a9a;font-weight:400;white-space:nowrap;transform:scaleX(0.9260);-webkit-text-stroke:0.8px #fff;">1843.76 MH/s</div>
<div style="position:absolute;left:1178.75px;transform-origin:left;top:441.94px;font-size:11.00px;line-height:11.00px;color:#6a6a6a;font-weight:400;white-space:nowrap;transform:scaleX(0.9464);">Hashrate</div>
<div style="position:absolute;right:87.50px;transform-origin:right;top:441.94px;font-size:11.00px;line-height:11.00px;color:#6a6a6a;font-weight:400;white-space:nowrap;transform:scaleX(1.0093);">(RT)</div>
<div style="position:absolute;left:1178.75px;transform-origin:left;top:480.01px;font-size:24.50px;line-height:24.50px;color:#9a9a9a;font-weight:400;white-space:nowrap;transform:scaleX(0.9260);-webkit-text-stroke:0.8px #fff;">2003.87 MH/s</div>
<div style="position:absolute;left:1178.75px;transform-origin:left;top:509.44px;font-size:11.00px;line-height:11.00px;color:#6a6a6a;font-weight:400;white-space:nowrap;transform:scaleX(0.9464);">Hashrate</div>
<div style="position:absolute;right:87.50px;transform-origin:right;top:509.44px;font-size:11.00px;line-height:11.00px;color:#6a6a6a;font-weight:400;white-space:nowrap;transform:scaleX(1.0756);">(AVG)</div>
<div style="position:absolute;left:1178.75px;transform-origin:left;top:547.51px;font-size:24.50px;line-height:24.50px;color:#9a9a9a;font-weight:400;white-space:nowrap;transform:scaleX(0.8493);-webkit-text-stroke:0.8px #fff;">0.00%</div>
<div style="position:absolute;left:1178.75px;transform-origin:left;top:576.94px;font-size:11.00px;line-height:11.00px;color:#6a6a6a;font-weight:400;white-space:nowrap;transform:scaleX(0.9220);">Reject Rate</div>
<div style="position:absolute;left:82.40px;transform-origin:left;top:666.27px;font-size:13.50px;line-height:13.50px;color:#5c5c5c;font-weight:400;white-space:nowrap;transform:scaleX(0.8854);-webkit-text-stroke:0.35px #5c5c5c;">Fan</div>
<div style="position:absolute;left:190.90px;transform-origin:center;top:786.45px;font-size:14.00px;line-height:14.00px;color:#62666a;font-weight:700;white-space:nowrap;transform:translateX(-50%) scaleX(0.9989);">88%</div>
<div style="position:absolute;left:190.90px;transform-origin:center;top:886.64px;font-size:12.00px;line-height:12.00px;color:#6a6a6a;font-weight:400;white-space:nowrap;transform:translateX(-50%) scaleX(1.0111);">1680</div>
<div style="position:absolute;left:190.90px;transform-origin:center;top:906.64px;font-size:12.00px;line-height:12.00px;color:#5c5c5c;font-weight:400;white-space:nowrap;transform:translateX(-50%) scaleX(0.9124);-webkit-text-stroke:0.35px #5c5c5c;">Fan 1 (Speed)</div>
<div style="position:absolute;left:426.90px;transform-origin:center;top:786.35px;font-size:14.00px;line-height:14.00px;color:#62666a;font-weight:700;white-space:nowrap;transform:translateX(-50%) scaleX(0.9989);">90%</div>
<div style="position:absolute;left:426.90px;transform-origin:center;top:886.64px;font-size:12.00px;line-height:12.00px;color:#6a6a6a;font-weight:400;white-space:nowrap;transform:translateX(-50%) scaleX(1.0111);">1710</div>
<div style="position:absolute;left:426.90px;transform-origin:center;top:906.64px;font-size:12.00px;line-height:12.00px;color:#5c5c5c;font-weight:400;white-space:nowrap;transform:translateX(-50%) scaleX(0.9124);-webkit-text-stroke:0.35px #5c5c5c;">Fan 2 (Speed)</div>
<div style="position:absolute;left:663.10px;transform-origin:center;top:786.35px;font-size:14.00px;line-height:14.00px;color:#62666a;font-weight:700;white-space:nowrap;transform:translateX(-50%) scaleX(0.9989);">91%</div>
<div style="position:absolute;left:663.10px;transform-origin:center;top:886.64px;font-size:12.00px;line-height:12.00px;color:#6a6a6a;font-weight:400;white-space:nowrap;transform:translateX(-50%) scaleX(1.0111);">1740</div>
<div style="position:absolute;left:663.10px;transform-origin:center;top:906.64px;font-size:12.00px;line-height:12.00px;color:#5c5c5c;font-weight:400;white-space:nowrap;transform:translateX(-50%) scaleX(0.9124);-webkit-text-stroke:0.35px #5c5c5c;">Fan 3 (Speed)</div>
<div style="position:absolute;left:829.80px;transform-origin:left;top:666.17px;font-size:13.50px;line-height:13.50px;color:#5c5c5c;font-weight:400;white-space:nowrap;transform:scaleX(0.9997);-webkit-text-stroke:0.35px #5c5c5c;">Network</div>
<div style="position:absolute;left:965.50px;transform-origin:center;top:733.78px;font-size:9.00px;line-height:9.00px;color:#fff;font-weight:700;white-space:nowrap;transform:translateX(-50%) scaleX(1.0000);">Type</div>
<div style="position:absolute;left:1093.80px;transform-origin:left;top:730.82px;font-size:12.50px;line-height:12.50px;color:#6a6a6a;font-weight:400;white-space:nowrap;transform:scaleX(0.8469);">DHCP</div>
<div style="position:absolute;left:965.50px;transform-origin:center;top:763.78px;font-size:9.00px;line-height:9.00px;color:#fff;font-weight:700;white-space:nowrap;transform:translateX(-50%) scaleX(1.0000);">MAC</div>
<div style="position:absolute;left:1093.80px;transform-origin:left;top:760.82px;font-size:12.50px;line-height:12.50px;color:#6a6a6a;font-weight:400;white-space:nowrap;transform:scaleX(0.8841);">F4:3C:3B:A9:33:54</div>
<div style="position:absolute;left:965.50px;transform-origin:center;top:793.78px;font-size:9.00px;line-height:9.00px;color:#fff;font-weight:700;white-space:nowrap;transform:translateX(-50%) scaleX(1.0000);">IP</div>
<div style="position:absolute;left:1093.80px;transform-origin:left;top:790.82px;font-size:12.50px;line-height:12.50px;color:#6a6a6a;font-weight:400;white-space:nowrap;transform:scaleX(0.9255);">192.168.1.230</div>
<div style="position:absolute;left:965.50px;transform-origin:center;top:823.78px;font-size:9.00px;line-height:9.00px;color:#fff;font-weight:700;white-space:nowrap;transform:translateX(-50%) scaleX(1.0000);">Netmask</div>
<div style="position:absolute;left:1093.80px;transform-origin:left;top:820.82px;font-size:12.50px;line-height:12.50px;color:#6a6a6a;font-weight:400;white-space:nowrap;transform:scaleX(0.9255);">255.255.255.0</div>
<div style="position:absolute;left:965.50px;transform-origin:center;top:853.78px;font-size:9.00px;line-height:9.00px;color:#fff;font-weight:700;white-space:nowrap;transform:translateX(-50%) scaleX(1.0000);">Gateway</div>
<div style="position:absolute;left:1093.80px;transform-origin:left;top:850.82px;font-size:12.50px;line-height:12.50px;color:#6a6a6a;font-weight:400;white-space:nowrap;transform:scaleX(0.9188);">G3100.mynetwork</div>
<div style="position:absolute;left:965.50px;transform-origin:center;top:883.78px;font-size:9.00px;line-height:9.00px;color:#fff;font-weight:700;white-space:nowrap;transform:translateX(-50%) scaleX(1.0000);">DNS1</div>
<div style="position:absolute;left:1093.80px;transform-origin:left;top:880.82px;font-size:12.50px;line-height:12.50px;color:#6a6a6a;font-weight:400;white-space:nowrap;transform:scaleX(0.9100);">192.168.1.1</div>
<div style="position:absolute;left:965.50px;transform-origin:center;top:913.78px;font-size:9.00px;line-height:9.00px;color:#fff;font-weight:700;white-space:nowrap;transform:translateX(-50%) scaleX(1.0000);">DNS2</div>
<div style="position:absolute;left:82.00px;transform-origin:left;top:996.17px;font-size:13.50px;line-height:13.50px;color:#5c5c5c;font-weight:400;white-space:nowrap;transform:scaleX(0.9917);-webkit-text-stroke:0.35px #5c5c5c;">Pools</div>
<div style="position:absolute;left:80.50px;transform-origin:left;top:1050.82px;font-size:12.50px;line-height:12.50px;color:#555;font-weight:400;white-space:nowrap;transform:scaleX(0.9849);-webkit-text-stroke:0.35px #555;">Pool#</div>
<div style="position:absolute;left:161.90px;transform-origin:left;top:1050.82px;font-size:12.50px;line-height:12.50px;color:#555;font-weight:400;white-space:nowrap;transform:scaleX(0.8795);-webkit-text-stroke:0.35px #555;">URL</div>
<div style="position:absolute;left:564.00px;transform-origin:left;top:1050.82px;font-size:12.50px;line-height:12.50px;color:#555;font-weight:400;white-space:nowrap;transform:scaleX(0.9846);-webkit-text-stroke:0.35px #555;">User</div>
<div style="position:absolute;left:1135.00px;transform-origin:left;top:1050.82px;font-size:12.50px;line-height:12.50px;color:#555;font-weight:400;white-space:nowrap;transform:scaleX(1.0159);-webkit-text-stroke:0.35px #555;">Status</div>
<div style="position:absolute;left:1222.80px;transform-origin:left;top:1050.82px;font-size:12.50px;line-height:12.50px;color:#555;font-weight:400;white-space:nowrap;transform:scaleX(0.9947);-webkit-text-stroke:0.35px #555;">Works</div>
<div style="position:absolute;left:1309.30px;transform-origin:left;top:1050.82px;font-size:12.50px;line-height:12.50px;color:#555;font-weight:400;white-space:nowrap;transform:scaleX(1.0110);-webkit-text-stroke:0.35px #555;">Accepted</div>
<div style="position:absolute;left:1426.00px;transform-origin:left;top:1050.82px;font-size:12.50px;line-height:12.50px;color:#555;font-weight:400;white-space:nowrap;transform:scaleX(0.9849);-webkit-text-stroke:0.35px #555;">Rejected</div>
<div style="position:absolute;left:80.50px;transform-origin:left;top:1085.42px;font-size:12.50px;line-height:12.50px;color:#555;font-weight:400;white-space:nowrap;-webkit-text-stroke:0.35px #555;">1</div>
<div style="position:absolute;left:80.50px;transform-origin:left;top:1118.82px;font-size:12.50px;line-height:12.50px;color:#555;font-weight:400;white-space:nowrap;-webkit-text-stroke:0.35px #555;">2</div>
<div style="position:absolute;left:80.50px;transform-origin:left;top:1152.72px;font-size:12.50px;line-height:12.50px;color:#555;font-weight:400;white-space:nowrap;-webkit-text-stroke:0.35px #555;">3</div>
<div style="position:absolute;left:161.90px;transform-origin:left;top:1085.42px;font-size:12.50px;line-height:12.50px;color:#6a6a6a;font-weight:400;white-space:nowrap;transform:scaleX(1.0088);">us-solo-etc.2miners.com:505</div>
<div style="position:absolute;left:161.90px;transform-origin:left;top:1152.72px;font-size:12.50px;line-height:12.50px;color:#6a6a6a;font-weight:400;white-space:nowrap;transform:scaleX(1.0231);">stratum+tcp://us-etc.2miners.com:1010</div>
<div style="position:absolute;left:1135.00px;transform-origin:left;top:1085.42px;font-size:12.50px;line-height:12.50px;color:#6a6a6a;font-weight:400;white-space:nowrap;transform:scaleX(0.9501);">Dead</div>
<div style="position:absolute;left:1222.80px;transform-origin:left;top:1085.42px;font-size:12.50px;line-height:12.50px;color:#6a6a6a;font-weight:400;white-space:nowrap;">0</div>
<div style="position:absolute;left:1309.30px;transform-origin:left;top:1085.42px;font-size:12.50px;line-height:12.50px;color:#6a6a6a;font-weight:400;white-space:nowrap;">0</div>
<div style="position:absolute;left:1426.00px;transform-origin:left;top:1085.42px;font-size:12.50px;line-height:12.50px;color:#6a6a6a;font-weight:400;white-space:nowrap;">0</div>
<div style="position:absolute;left:1135.00px;transform-origin:left;top:1152.72px;font-size:12.50px;line-height:12.50px;color:#6a6a6a;font-weight:400;white-space:nowrap;transform:scaleX(0.9688);">In use</div>
<div style="position:absolute;left:1222.80px;transform-origin:left;top:1152.72px;font-size:12.50px;line-height:12.50px;color:#6a6a6a;font-weight:400;white-space:nowrap;transform:scaleX(0.9837);">10061</div>
<div style="position:absolute;left:1309.30px;transform-origin:left;top:1152.72px;font-size:12.50px;line-height:12.50px;color:#6a6a6a;font-weight:400;white-space:nowrap;transform:scaleX(0.9981);">21069</div>
<div style="position:absolute;left:1426.00px;transform-origin:left;top:1152.72px;font-size:12.50px;line-height:12.50px;color:#6a6a6a;font-weight:400;white-space:nowrap;">0</div>
<div style="position:absolute;left:564.00px;transform-origin:left;top:1085.42px;font-size:12.50px;line-height:12.50px;color:#6a6a6a;font-weight:400;white-space:nowrap;">0</div>
<div style="position:absolute;left:860.00px;transform-origin:left;top:1085.42px;font-size:12.50px;line-height:12.50px;color:#6a6a6a;font-weight:400;white-space:nowrap;transform:scaleX(1.0270);">.230</div>
<div style="position:absolute;left:858.00px;transform-origin:left;top:1152.72px;font-size:12.50px;line-height:12.50px;color:#6a6a6a;font-weight:400;white-space:nowrap;transform:scaleX(0.8825);">Q23u</div>
<div style="position:absolute;left:82.00px;transform-origin:left;top:1255.17px;font-size:13.50px;line-height:13.50px;color:#5c5c5c;font-weight:400;white-space:nowrap;transform:scaleX(0.9934);-webkit-text-stroke:0.35px #5c5c5c;">Boards</div>
<div style="position:absolute;left:80.00px;transform-origin:left;top:1309.22px;font-size:12.50px;line-height:12.50px;color:#555;font-weight:400;white-space:nowrap;transform:scaleX(0.9922);-webkit-text-stroke:0.35px #555;">Board#</div>
<div style="position:absolute;left:281.00px;transform-origin:left;top:1309.22px;font-size:12.50px;line-height:12.50px;color:#555;font-weight:400;white-space:nowrap;transform:scaleX(1.0096);-webkit-text-stroke:0.35px #555;">Asic Num</div>
<div style="position:absolute;left:531.50px;transform-origin:left;top:1309.22px;font-size:12.50px;line-height:12.50px;color:#555;font-weight:400;white-space:nowrap;transform:scaleX(0.9726);-webkit-text-stroke:0.35px #555;">Freq</div>
<div style="position:absolute;left:676.50px;transform-origin:left;top:1309.22px;font-size:12.50px;line-height:12.50px;color:#555;font-weight:400;white-space:nowrap;transform:scaleX(1.0052);-webkit-text-stroke:0.35px #555;">Hashrate</div>
<div style="position:absolute;left:1019.00px;transform-origin:left;top:1309.22px;font-size:12.50px;line-height:12.50px;color:#555;font-weight:400;white-space:nowrap;transform:scaleX(1.0138);-webkit-text-stroke:0.35px #555;">Temp</div>
<div style="position:absolute;left:1250.50px;transform-origin:left;top:1309.22px;font-size:12.50px;line-height:12.50px;color:#555;font-weight:400;white-space:nowrap;transform:scaleX(1.0155);-webkit-text-stroke:0.35px #555;">Asic Status</div>
<div style="position:absolute;left:80.50px;transform-origin:left;top:1343.62px;font-size:12.50px;line-height:12.50px;color:#555;font-weight:400;white-space:nowrap;-webkit-text-stroke:0.35px #555;">1</div>
<div style="position:absolute;left:281.00px;transform-origin:left;top:1343.62px;font-size:12.50px;line-height:12.50px;color:#6a6a6a;font-weight:400;white-space:nowrap;">3</div>
<div style="position:absolute;left:531.50px;transform-origin:left;top:1343.62px;font-size:12.50px;line-height:12.50px;color:#6a6a6a;font-weight:400;white-space:nowrap;transform:scaleX(1.1745);">550</div>
<div style="position:absolute;left:676.50px;transform-origin:left;top:1343.62px;font-size:12.50px;line-height:12.50px;color:#6a6a6a;font-weight:400;white-space:nowrap;transform:scaleX(1.0215);">2004.51 MH/s</div>
<div style="position:absolute;left:1019.00px;transform-origin:left;top:1343.62px;font-size:12.50px;line-height:12.50px;color:#6a6a6a;font-weight:400;white-space:nowrap;transform:scaleX(0.9791);">48-47-45</div>
<div style="position:absolute;left:20.00px;transform-origin:left;top:1445.42px;font-size:12.50px;line-height:12.50px;color:#6a6a6a;font-weight:400;white-space:nowrap;transform:scaleX(0.9851);"><span style="-webkit-text-stroke:0.35px #555;color:#555">Copyright</span> &copy; 2024 SUNLUNE. All rights reserved</div>
<div style="position:absolute;left:1352.50px;transform-origin:left;top:1445.42px;font-size:12.50px;line-height:12.50px;color:#6a6a6a;font-weight:400;white-space:nowrap;transform:scaleX(0.9825);">400-022-3866</div>
<div style="position:absolute;left:1455.00px;transform-origin:left;top:1445.42px;font-size:12.50px;line-height:12.50px;color:#6a6a6a;font-weight:400;white-space:nowrap;transform:scaleX(0.9979);">support@sunlune.com</div>
<svg style="position:absolute;left:0;top:0;pointer-events:none" width="1600" height="1471"><clipPath id="blobc"><circle cx="39" cy="129.6" r="7.3"/><ellipse cx="28.4" cy="134" rx="5.8" ry="5.6"/><circle cx="36.6" cy="143" r="7"/><ellipse cx="44.6" cy="136.4" rx="5.2" ry="5.6"/><ellipse cx="37" cy="136" rx="10" ry="8"/></clipPath><g font-family="Liberation Sans" font-weight="700" font-size="15.5"><text x="26.8" y="141.3" textLength="25.6" lengthAdjust="spacingAndGlyphs" fill="#b5a55a">JAS</text><text x="52.6" y="141.3" textLength="52.4" lengthAdjust="spacingAndGlyphs" fill="#b5a55a">MINER</text><g clip-path="url(#blobc)"><text x="26.8" y="141.3" textLength="25.6" lengthAdjust="spacingAndGlyphs" fill="#fff">JAS</text><text x="52.6" y="141.3" textLength="52.4" lengthAdjust="spacingAndGlyphs" fill="#fff">MINER</text></g></g></svg><svg style="position:absolute;left:0;top:0;pointer-events:none" width="1600" height="1471"><path d="M561 1100 L568.5 1098 L568.5 1084 Q585 1078 632 1074 L860 1074 Q864 1090 856 1098 L700 1100 Q672 1094 650 1101 L648 1108 L830 1108 Q884 1112 905 1141 Q900 1150 856 1151 Q850 1172 760 1176 L700 1176 Q660 1166 620 1176 L561 1176 Z" fill="#fff" stroke="#fff" stroke-width="2" stroke-linejoin="round"/></svg>
</body></html>
